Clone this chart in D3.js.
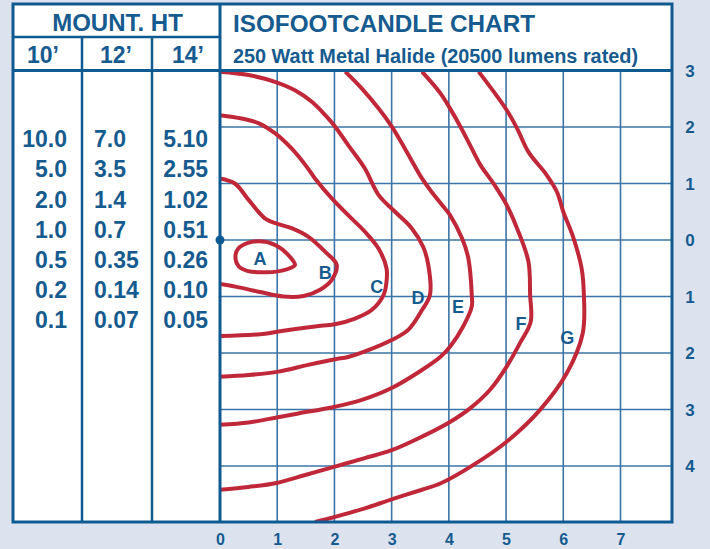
<!DOCTYPE html>
<html>
<head>
<meta charset="utf-8">
<script src="https://cdn.jsdelivr.net/npm/d3@7"></script>
<style>
  html, body { margin: 0; padding: 0; background: #dce3ef; }
  svg { display: block; }
  text { font-family: "Liberation Sans", Arial, Helvetica, sans-serif; font-weight: bold; fill: #165b8f; }
</style>
</head>
<body>
<svg id="chart" width="710" height="549"></svg>
<script>
// ---------------- DATA ----------------
const title = "ISOFOOTCANDLE CHART";
const subtitle = "250 Watt Metal Halide (20500 lumens rated)";
const mountHeader = "MOUNT. HT";
const mountHeights = ["10\u2019", "12\u2019", "14\u2019"];
const fc10 = ["10.0", "5.0", "2.0", "1.0", "0.5", "0.2", "0.1"];
const fc12 = ["7.0", "3.5", "1.4", "0.7", "0.35", "0.14", "0.07"];
const fc14 = ["5.10", "2.55", "1.02", "0.51", "0.26", "0.10", "0.05"];

const xTicks = [0, 1, 2, 3, 4, 5, 6, 7];
const yTicks = [3, 2, 1, 0, -1, -2, -3, -4];
const yTickLabels = ["3", "2", "1", "0", "1", "2", "3", "4"];

// contour curves, [x units, y units] (y positive = up)
const curveA = [[0.32,-0.15],[0.49,-0.05],[0.79,-0.03],[1.02,-0.12],[1.17,-0.24],[1.31,-0.44],
  [1.22,-0.50],[0.99,-0.56],[0.79,-0.57],[0.49,-0.55],[0.33,-0.47],[0.27,-0.27]];
const curveB = [[0.0,1.09],[0.26,1.0],[0.50,0.71],[0.79,0.38],[1.02,0.28],[1.25,0.21],[1.54,0.06],
  [1.84,-0.21],[2.04,-0.44],[1.95,-0.71],[1.75,-0.88],[1.46,-0.99],[1.11,-1.0],[0.70,-0.92],
  [0.29,-0.83],[0.0,-0.78]];
const curveC = [[0.0,2.21],[0.38,2.15],[0.67,2.07],[0.96,1.89],[1.25,1.62],[1.49,1.33],[1.66,1.09],
  [1.95,0.74],[2.24,0.44],[2.53,0.15],[2.77,-0.15],[2.91,-0.50],[2.91,-0.74],[2.86,-0.97],
  [2.65,-1.24],[2.36,-1.39],[2.01,-1.49],[1.66,-1.53],[1.02,-1.62],[0.79,-1.66],[0.0,-1.70]];
const curveD = [[0.0,2.98],[0.50,2.92],[0.96,2.80],[1.31,2.65],[1.60,2.45],[1.84,2.21],[2.01,2.01],
  [2.24,1.68],[2.53,1.27],[2.77,0.80],[3.06,0.50],[3.35,0.21],[3.55,-0.12],[3.64,-0.44],
  [3.67,-0.97],[3.53,-1.24],[3.29,-1.59],[3.0,-1.77],[2.59,-1.95],[2.24,-2.07],[2.01,-2.11],
  [1.54,-2.21],[1.02,-2.33],[0.50,-2.39],[0.0,-2.42]];
const curveE = [[2.19,2.98],[2.48,2.68],[2.77,2.33],[3.0,2.01],[3.23,1.62],[3.53,1.09],[3.70,0.85],
  [3.93,0.56],[4.02,0.44],[4.23,0.03],[4.34,-0.32],[4.40,-0.97],[4.40,-1.18],[4.25,-1.53],
  [4.02,-1.89],[3.85,-2.07],[3.53,-2.30],[3.0,-2.62],[2.48,-2.83],[2.01,-2.95],[1.37,-3.07],
  [0.99,-3.14],[0.50,-3.23],[0.0,-3.27]];
const curveF = [[3.53,2.98],[3.85,2.60],[4.02,2.33],[4.20,2.01],[4.37,1.68],[4.55,1.33],[4.78,1.0],
  [5.01,0.62],[5.19,0.21],[5.39,-0.38],[5.42,-0.97],[5.43,-1.45],[5.24,-1.83],[5.01,-2.24],
  [4.72,-2.65],[4.37,-2.98],[4.02,-3.22],[3.53,-3.48],[3.0,-3.72],[2.53,-3.86],[2.01,-4.01],
  [1.49,-4.16],[0.99,-4.30],[0.50,-4.37],[0.0,-4.42]];
const curveG = [[4.52,2.98],[4.78,2.63],[5.01,2.30],[5.19,1.98],[5.39,1.56],[5.71,1.15],[5.89,0.85],
  [6.0,0.50],[6.18,0.03],[6.32,-0.50],[6.36,-0.97],[6.34,-1.65],[6.06,-2.36],[5.59,-3.01],
  [5.01,-3.57],[4.43,-3.98],[3.85,-4.31],[3.53,-4.42],[3.0,-4.59],[2.53,-4.75],[2.01,-4.90],
  [1.66,-4.99]];

const curveNames = ["A", "B", "C", "D", "E", "F", "G"];
const labelPos = [[0.70,-0.32],[1.84,-0.58],[2.74,-0.83],[3.46,-1.01],[4.16,-1.18],[5.26,-1.47],[6.07,-1.73]];

// ---------------- DRAW ----------------
const svg = d3.select("#chart");
const blue = "#0f5b91";
const gridBlue = "#3b74a6";
const red = "#c0283a";

const x = d3.scaleLinear().domain([0, 7.9]).range([220, 672]);
const y = d3.scaleLinear().domain([3, -5]).range([70.5, 522.5]);

// white panel
svg.append("rect").attr("x", 13).attr("y", 4).attr("width", 659).attr("height", 518).attr("fill", "#fff");

// grid
const grid = svg.append("g");
grid.selectAll("line.v").data(xTicks.filter(d => d > 0)).join("line")
  .attr("x1", d => x(d)).attr("x2", d => x(d)).attr("y1", y(3)).attr("y2", y(-5))
  .attr("stroke", gridBlue).attr("stroke-width", 1.6);
grid.selectAll("line.h").data(yTicks.filter(d => d < 3)).join("line")
  .attr("x1", x(0)).attr("x2", 672).attr("y1", d => y(d)).attr("y2", d => y(d))
  .attr("stroke", gridBlue).attr("stroke-width", 1.6);

// curves
const line = d3.line().x(d => x(d[0])).y(d => y(d[1])).curve(d3.curveCatmullRom.alpha(0.5));
const lineClosed = d3.line().x(d => x(d[0])).y(d => y(d[1])).curve(d3.curveCatmullRomClosed.alpha(0.5));
const clip = svg.append("clipPath").attr("id", "plotclip").append("rect")
  .attr("x", x(0)).attr("y", y(3)).attr("width", 672 - x(0)).attr("height", y(-5) - y(3));
const cg = svg.append("g").attr("clip-path", "url(#plotclip)");
cg.append("path").attr("d", lineClosed(curveA)).attr("fill", "none").attr("stroke", red).attr("stroke-width", 4).attr("stroke-linejoin", "round");
[curveB, curveC, curveD, curveE, curveF, curveG].forEach(c => {
  cg.append("path").attr("d", line(c)).attr("fill", "none").attr("stroke", red)
    .attr("stroke-width", 4).attr("stroke-linejoin", "round");
});

// curve labels
svg.selectAll("text.clab").data(curveNames).join("text")
  .attr("x", (d, i) => x(labelPos[i][0])).attr("y", (d, i) => y(labelPos[i][1]) + 6.5)
  .attr("text-anchor", "middle").attr("font-size", 18).text(d => d);

// frame lines
const frame = svg.append("g").attr("stroke", blue).attr("fill", "none");
frame.append("line").attr("x1", 13).attr("x2", 220).attr("y1", 37).attr("y2", 37).attr("stroke-width", 2.5);
frame.append("line").attr("x1", 13).attr("x2", 672).attr("y1", 70.5).attr("y2", 70.5).attr("stroke-width", 3);
frame.append("line").attr("x1", 82).attr("x2", 82).attr("y1", 37).attr("y2", 522).attr("stroke-width", 2.5);
frame.append("line").attr("x1", 152).attr("x2", 152).attr("y1", 37).attr("y2", 522).attr("stroke-width", 2.5);
frame.append("line").attr("x1", 220).attr("x2", 220).attr("y1", 4).attr("y2", 522).attr("stroke-width", 3);
frame.append("rect").attr("x", 13).attr("y", 4).attr("width", 659).attr("height", 518).attr("stroke-width", 3);

// origin dot
svg.append("circle").attr("cx", x(0)).attr("cy", y(0)).attr("r", 4.5).attr("fill", blue);

// header texts
svg.append("text").attr("x", 117.5).attr("y", 30.5).attr("text-anchor", "middle").attr("font-size", 24).text(mountHeader);
const colCenters = [43, 116, 188];
svg.selectAll("text.mh").data(mountHeights).join("text")
  .attr("x", (d, i) => colCenters[i]).attr("y", 63).attr("text-anchor", "middle").attr("font-size", 23).text(d => d);
svg.append("text").attr("x", 233).attr("y", 32).attr("font-size", 24).attr("textLength", 302)
  .attr("lengthAdjust", "spacingAndGlyphs").text(title);
svg.append("text").attr("x", 233).attr("y", 63).attr("font-size", 20)
  .attr("textLength", 405).attr("lengthAdjust", "spacingAndGlyphs").text(subtitle);

// table values
const rowY = i => 147.3 + i * 30.15;
svg.selectAll("text.c1").data(fc10).join("text").attr("x", 67).attr("y", (d, i) => rowY(i))
  .attr("text-anchor", "end").attr("font-size", 23).text(d => d);
svg.selectAll("text.c2").data(fc12).join("text").attr("x", 94).attr("y", (d, i) => rowY(i))
  .attr("text-anchor", "start").attr("font-size", 23).text(d => d);
svg.selectAll("text.c3").data(fc14).join("text").attr("x", 208).attr("y", (d, i) => rowY(i))
  .attr("text-anchor", "end").attr("font-size", 23).text(d => d);

// axes labels
svg.selectAll("text.xt").data(xTicks).join("text")
  .attr("x", d => x(d) + 0.5).attr("y", 545).attr("text-anchor", "middle").attr("font-size", 16).text(d => d);
svg.selectAll("text.yt").data(yTicks).join("text")
  .attr("x", 690).attr("y", d => y(d) + 6).attr("text-anchor", "middle").attr("font-size", 17)
  .text((d, i) => yTickLabels[i]);
</script>
</body>
</html>
